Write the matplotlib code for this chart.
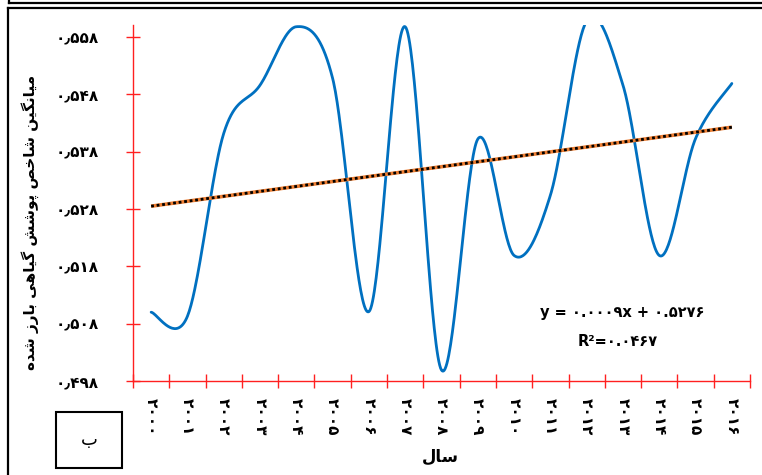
import numpy as np
import matplotlib
matplotlib.use("Agg")
import matplotlib.pyplot as plt
from matplotlib.lines import Line2D
from matplotlib.patches import Rectangle

plt.rcParams['font.family'] = ['DejaVu Sans']

# ---------------- data ----------------
years = list(range(2000, 2017))
values = [0.5100, 0.5093, 0.5412, 0.5496, 0.5598, 0.5508, 0.5101, 0.5598,
          0.4999, 0.5402, 0.5199, 0.5304, 0.5608, 0.5496, 0.5199, 0.5403, 0.5499]
yticks = [0.498, 0.508, 0.518, 0.528, 0.538, 0.548, 0.558]
ylabel_text = "میانگین شاخص پوشش گیاهی بارز شده"
xlabel_text = "سال"
panel_text = "ب"
eq_text = "y = ۰.۰۰۰۹x + ۰.۵۲۷۶"
r2_text = "R²=۰.۰۴۶۷"

# -------------- Persian helpers --------------
FA_DIGITS = str.maketrans("0123456789.", "۰۱۲۳۴۵۶۷۸۹٫")
FORMS = {
    'ا': ('\uFE8D', '\uFE8E', None, None),
    'ب': ('\uFE8F', '\uFE90', '\uFE91', '\uFE92'),
    'پ': ('\uFB56', '\uFB57', '\uFB58', '\uFB59'),
    'خ': ('\uFEA5', '\uFEA6', '\uFEA7', '\uFEA8'),
    'د': ('\uFEA9', '\uFEAA', None, None),
    'ر': ('\uFEAD', '\uFEAE', None, None),
    'ز': ('\uFEAF', '\uFEB0', None, None),
    'س': ('\uFEB1', '\uFEB2', '\uFEB3', '\uFEB4'),
    'ش': ('\uFEB5', '\uFEB6', '\uFEB7', '\uFEB8'),
    'ص': ('\uFEB9', '\uFEBA', '\uFEBB', '\uFEBC'),
    'گ': ('\uFB92', '\uFB93', '\uFB94', '\uFB95'),
    'ل': ('\uFEDD', '\uFEDE', '\uFEDF', '\uFEE0'),
    'م': ('\uFEE1', '\uFEE2', '\uFEE3', '\uFEE4'),
    'ن': ('\uFEE5', '\uFEE6', '\uFEE7', '\uFEE8'),
    'ه': ('\uFEE9', '\uFEEA', '\uFEEB', '\uFEEC'),
    'و': ('\uFEED', '\uFEEE', None, None),
    'ی': ('\uFBFC', '\uFBFD', '\uFBFE', '\uFBFF'),
}


def shape_fa(s):
    out = []
    n = len(s)
    for i, c in enumerate(s):
        if c not in FORMS:
            out.append(c)
            continue
        prev = s[i - 1] if i > 0 else None
        nxt = s[i + 1] if i < n - 1 else None
        jp = prev in FORMS and FORMS[prev][2] is not None
        jn = nxt in FORMS and FORMS[c][2] is not None
        iso, fin, ini, med = FORMS[c]
        if jp and jn:
            out.append(med)
        elif jp:
            out.append(fin)
        elif jn:
            out.append(ini)
        else:
            out.append(iso)
    return "".join(out)[::-1]


def smooth(xs, ys, n=40):
    # Excel-like smoothed line (Catmull-Rom as cubic Bezier)
    P = np.column_stack([xs, ys]).astype(float)
    m = len(P)
    pts = []
    for i in range(m - 1):
        p0 = P[i - 1] if i > 0 else P[i]
        p1 = P[i]
        p2 = P[i + 1]
        p3 = P[i + 2] if i + 2 < m else P[i + 1]
        c1 = p1 + (p2 - p0) / 6.0
        c2 = p2 - (p3 - p1) / 6.0
        t = np.linspace(0, 1, n, endpoint=(i == m - 2))[:, None]
        b = ((1 - t) ** 3) * p1 + 3 * ((1 - t) ** 2) * t * c1 + 3 * (1 - t) * t ** 2 * c2 + t ** 3 * p2
        pts.append(b)
    pts = np.vstack(pts)
    return pts[:, 0], pts[:, 1]


# ---------------- figure ----------------
W, H = 762, 475
fig = plt.figure(figsize=(W / 100, H / 100), dpi=100)
ax = fig.add_axes([133 / W, 1 - 381 / H, (750 - 133) / W, (381 - 25) / H])

x = np.arange(len(years))
sx, sy = smooth(x, values)
ax.plot(sx, sy, color='#0070C0', lw=2.0, solid_capstyle='round', zorder=3)

coef = np.polyfit(x, values, 1)
tx = np.array([x[0], x[-1]])
ty = np.polyval(coef, tx)
ax.plot(tx, ty, color='#ED7D31', lw=2.6, zorder=4, solid_capstyle='butt')
ax.plot(tx, ty, color='black', lw=2.0, zorder=5, linestyle=(0, (1, 1)))

ax.set_xlim(-0.5, len(years) - 0.5)
ax.set_ylim(0.498, 0.5601)

red = '#FF2020'
for s in ['top', 'right']:
    ax.spines[s].set_visible(False)
for s in ['left', 'bottom']:
    ax.spines[s].set_color(red)
    ax.spines[s].set_linewidth(1.0)

ax.set_yticks(yticks)
ax.set_yticklabels([("%.3f" % v).translate(FA_DIGITS) for v in yticks],
                   fontsize=11, fontweight='bold')
ax.set_xticks(np.arange(-0.5, len(years), 1.0))
ax.set_xticklabels([])
ax.set_xticks(x, minor=True)
ax.set_xticklabels([str(y).translate(FA_DIGITS) for y in years], minor=True,
                   rotation=270, fontsize=11, fontweight='bold', va='top', ha='center')
ax.tick_params(axis='x', which='minor', length=0, pad=12)
ax.tick_params(axis='both', which='major', direction='inout', length=10,
               color=red, width=1.0)
ax.tick_params(axis='y', pad=20)

fig.text(30 / W, 1 - 222 / H, shape_fa(ylabel_text), rotation=90,
         ha='center', va='center', fontsize=11, fontweight='bold')
fig.text(440 / W, 1 - 457 / H, shape_fa(xlabel_text), ha='center', va='center',
         fontsize=12, fontweight='bold')
fig.text(622 / W, 1 - 312 / H, eq_text, ha='center', va='center',
         fontsize=10.5, fontweight='bold')
fig.text(618 / W, 1 - 342 / H, r2_text, ha='center', va='center',
         fontsize=10.5, fontweight='bold')

fig.add_artist(Rectangle((56 / W, 1 - 468 / H), 66 / W, 56 / H, transform=fig.transFigure,
                         fill=False, edgecolor='black', lw=1.5))
fig.text(89 / W, 1 - 440 / H, shape_fa(panel_text), ha='center', va='center', fontsize=13)

# outer frame lines
fig.add_artist(Line2D([9 / W, 1], [1 - 3.3 / H, 1 - 3.3 / H], color='black', lw=1.6,
                      transform=fig.transFigure))
fig.add_artist(Line2D([9 / W, 9 / W], [1, 1 - 3.3 / H], color='black', lw=1.6,
                      transform=fig.transFigure))
fig.add_artist(Line2D([8 / W, 1], [1 - 7.5 / H, 1 - 7.5 / H], color='black', lw=1.6,
                      transform=fig.transFigure))
fig.add_artist(Line2D([8 / W, 8 / W], [1 - 7.5 / H, 0], color='black', lw=1.6,
                      transform=fig.transFigure))

fig.savefig('out.png', dpi=100)
